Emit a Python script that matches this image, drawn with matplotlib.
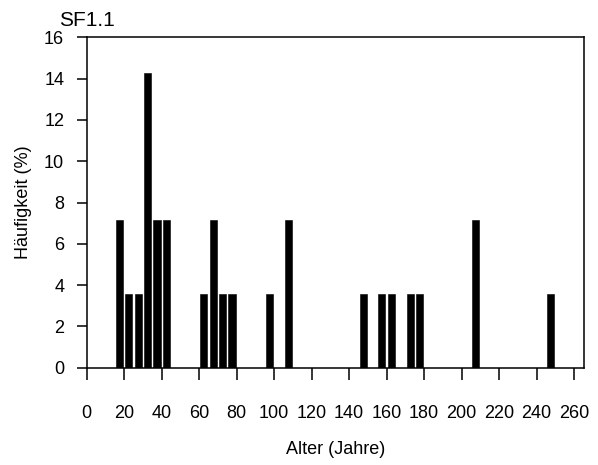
import numpy as np
import matplotlib
matplotlib.use('Agg')
import matplotlib.pyplot as plt

plt.rcParams['font.family'] = ['Liberation Sans', 'DejaVu Sans']

# Age class centres (years) and frequency (%)
alter = [17.5, 22.5, 27.5, 32.5, 37.5, 42.5,
         62.5, 67.5, 72.5, 77.5,
         97.5, 107.5,
         147.5, 157.5, 162.5, 172.5, 177.5,
         207.5, 247.5]
haeufigkeit = [7.14, 3.57, 3.57, 14.29, 7.14, 7.14,
               3.57, 7.14, 3.57, 3.57,
               3.57, 7.14,
               3.57, 3.57, 3.57, 3.57, 3.57,
               7.14, 3.57]

xticks = np.arange(0, 261, 20)
yticks = np.arange(0, 17, 2)

fig = plt.figure(figsize=(5.98, 4.65), dpi=100)
ax = fig.add_axes([0.145, 0.209, 0.832, 0.711])

ax.bar(alter, haeufigkeit, width=3.75, color='black', edgecolor='black', linewidth=0.4)

ax.set_xlim(0, 265.4)
ax.set_ylim(0, 16)
ax.set_xticks(xticks)
ax.set_yticks(yticks)

for s in ax.spines.values():
    s.set_linewidth(1.1)

ax.tick_params(axis='x', direction='out', length=8.6, width=1.1, pad=18.5, labelsize=13)
ax.tick_params(axis='y', direction='out', length=7.2, width=1.1, pad=9, labelsize=13)

ax.set_xlabel('Alter (Jahre)', fontsize=13, labelpad=13)
ax.set_ylabel('Häufigkeit (%)', fontsize=13, labelpad=9)

fig.text(0.145, 0.977, 'SF1.1', ha='center', va='top', fontsize=15)

fig.savefig('out.png', dpi=100)
